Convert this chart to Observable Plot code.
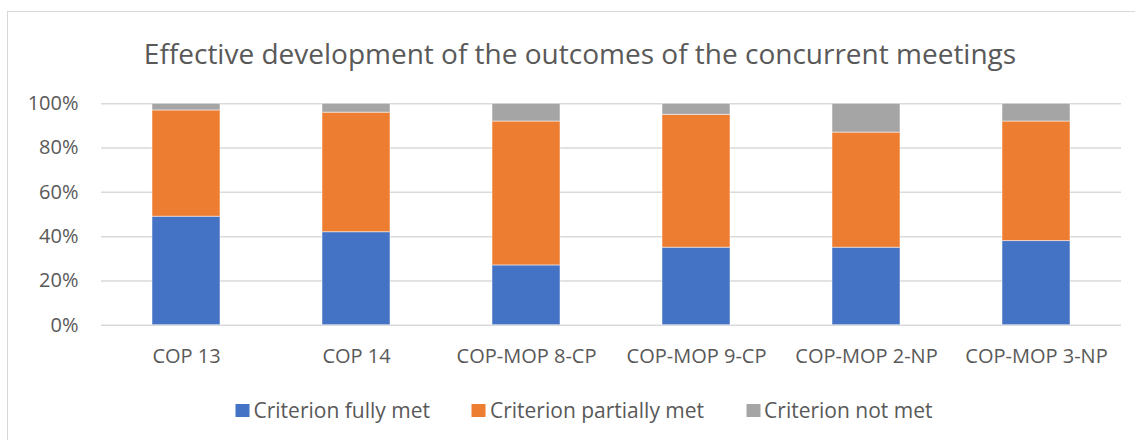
<!DOCTYPE html>
<html>
<head>
<meta charset="utf-8">
<script src="https://cdn.jsdelivr.net/npm/d3@7"></script>
<script src="https://cdn.jsdelivr.net/npm/@observablehq/plot@0.6"></script>
<style>
  html, body { margin: 0; padding: 0; background: #fff; }
  body { width: 1135px; height: 440px; position: relative; overflow: hidden; font-family: "Open Sans", sans-serif; color: #595959; }
  #frame { position: absolute; left: 7px; top: 11px; width: 1140px; height: 440px; border: 1px solid #d9d9d9; box-sizing: border-box; }
  #title { position: absolute; left: 0; top: 39px; width: 1160px; text-align: center; font-size: 28px; line-height: 1; white-space: nowrap; }
  #chart { position: absolute; left: 0; top: 80px; }
  #legend { position: absolute; top: 400px; left: 584px; transform: translateX(-50%); display: flex; gap: 42px; white-space: nowrap; font-size: 21px; line-height: 20px; }
  .item { display: flex; align-items: center; gap: 4px; }
  .sw { width: 14px; height: 13px; display: inline-block; }
</style>
</head>
<body>
<div id="frame"></div>
<div id="title">Effective development of the outcomes of the concurrent meetings</div>
<div id="chart"></div>
<div id="legend"></div>
<script>
const categories = ["COP 13", "COP 14", "COP-MOP 8-CP", "COP-MOP 9-CP", "COP-MOP 2-NP", "COP-MOP 3-NP"];
const seriesNames = ["Criterion fully met", "Criterion partially met", "Criterion not met"];
const fullyMet = [49, 42, 27, 35, 35, 38];
const partiallyMet = [48, 54, 65, 60, 52, 54];
const notMet = [3, 4, 8, 5, 13, 8];
const seriesColors = ["#4472C4", "#ED7D31", "#A5A5A5"];
const yTicks = [0, 0.2, 0.4, 0.6, 0.8, 1];

const seriesValues = [fullyMet, partiallyMet, notMet];
const data = [];
seriesNames.forEach((s, si) => {
  categories.forEach((c, ci) => {
    data.push({category: c, series: s, value: seriesValues[si][ci] / 100});
  });
});

const chart = Plot.plot({
  width: 1135,
  height: 300,
  marginLeft: 101,
  marginRight: 14,
  marginTop: 23.3,
  marginBottom: 55.3,
  style: {fontFamily: "Open Sans, sans-serif", fontSize: "20px", color: "#595959", background: "transparent"},
  x: {domain: categories, paddingInner: 0.6, paddingOuter: 0.3, label: null},
  y: {domain: [0, 1], label: null},
  color: {domain: seriesNames, range: seriesColors},
  marks: [
    Plot.gridY(yTicks, {stroke: "#d9d9d9", strokeOpacity: 1, strokeWidth: 1.5}),
    Plot.barY(data, Plot.stackY({
      x: "category", y: "value", fill: "series",
      order: seriesNames,
      stroke: "#ffffff", strokeOpacity: 0.5, strokeWidth: 1
    })),
    Plot.axisY(yTicks, {tickSize: 0, tickPadding: 23, tickFormat: d3.format(".0%"), fontSize: 20, label: null}),
    Plot.axisX({tickSize: 0, tickPadding: 24, fontSize: 20, label: null})
  ]
});
document.getElementById("chart").appendChild(chart);

const legend = document.getElementById("legend");
seriesNames.forEach((s, i) => {
  const item = document.createElement("div");
  item.className = "item";
  const sw = document.createElement("span");
  sw.className = "sw";
  sw.style.background = seriesColors[i];
  const t = document.createElement("span");
  t.textContent = s;
  item.appendChild(sw);
  item.appendChild(t);
  legend.appendChild(item);
});
</script>
</body>
</html>
